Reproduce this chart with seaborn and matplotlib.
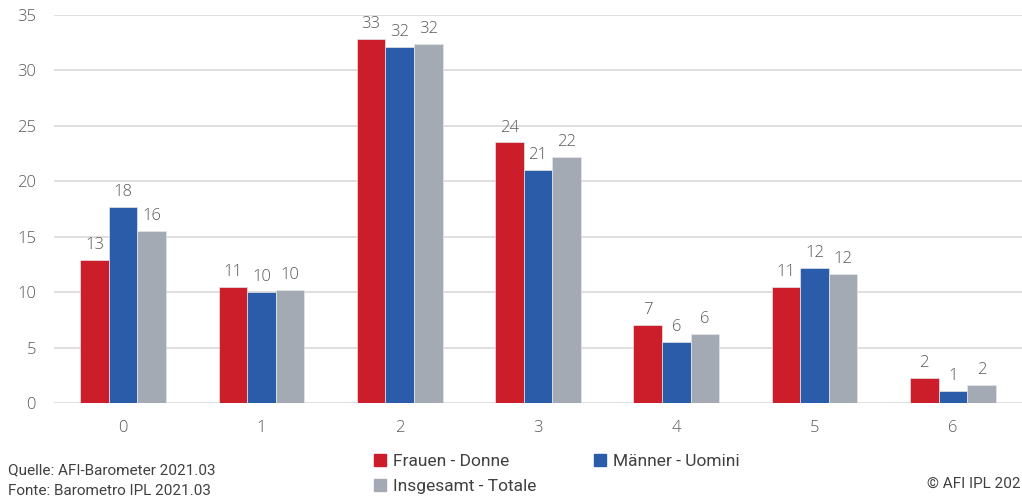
import numpy as np
import pandas as pd
import matplotlib
matplotlib.use("Agg")
import matplotlib.pyplot as plt
import seaborn as sns

categories = ["0", "1", "2", "3", "4", "5", "6"]
frauen = [12.9, 10.5, 32.8, 23.5, 7.0, 10.5, 2.3]
maenner = [17.7, 10.0, 32.1, 21.0, 5.5, 12.2, 1.05]
insgesamt = [15.5, 10.2, 32.4, 22.2, 6.2, 11.6, 1.6]
series_names = ["Frauen - Donne", "Männer - Uomini", "Insgesamt - Totale"]
colors = ["#CC1E2A", "#2B5CA9", "#A3AAB4"]
yticks = [0, 5, 10, 15, 20, 25, 30, 35]

df = pd.DataFrame({
    "cat": categories * 3,
    "val": frauen + maenner + insgesamt,
    "series": [series_names[0]] * 7 + [series_names[1]] * 7 + [series_names[2]] * 7,
})

sns.set_theme(style="white")
plt.rcParams["font.family"] = ["Open Sans", "DejaVu Sans"]

fig = plt.figure(figsize=(10.22, 5), dpi=100)
ax = fig.add_axes([0.0528, 0.194, 0.9472, 0.776])

sns.barplot(data=df, x="cat", y="val", hue="series", order=categories,
            hue_order=series_names, palette=colors, width=0.62,
            saturation=1, ax=ax, legend=False, errorbar=None,
            edgecolor="#E6E6E6", linewidth=0.5)

for cont in ax.containers:
    labels = [f"{int(np.floor(v + 0.5))}" for v in cont.datavalues]
    ax.bar_label(cont, labels=labels, padding=5, fontsize=12,
                 color="#595959", fontweight="light")

ax.set_xlim(-0.5, 6.5)
ax.set_ylim(0, 35)
ax.set_yticks(yticks)
ax.grid(axis="y", color="#D9D9D9", linewidth=1.2)
ax.set_axisbelow(True)
for s in ax.spines.values():
    s.set_visible(False)
ax.set_xlabel("")
ax.set_ylabel("")
ax.tick_params(axis="y", length=0, pad=13, labelsize=12, labelcolor="#595959")
ax.tick_params(axis="x", length=0, pad=12, labelsize=12, labelcolor="#595959")
for t in ax.get_xticklabels() + ax.get_yticklabels():
    t.set_fontweight("light")

narrow = ["Roboto", "DejaVu Sans"]
handles = [plt.Rectangle((0, 0), 1, 1, color=c) for c in colors]
# column-major fill: col1 = Frauen, Insgesamt ; col2 = Männer
order = [0, 2, 1]
leg = fig.legend([handles[i] for i in order], [series_names[i] for i in order],
                 ncol=2, loc="center",
                 bbox_to_anchor=(0.545, 0.052), frameon=False,
                 handlelength=0.7, handleheight=0.7, handletextpad=0.4,
                 columnspacing=3.3, labelspacing=0.55,
                 prop={"family": narrow, "size": 12.5})
for t in leg.get_texts():
    t.set_color("#404040")

fig.text(0.008, 0.06, "Quelle: AFI-Barometer 2021.03", family=narrow,
         fontsize=11, color="#404040", va="center")
fig.text(0.008, 0.018, "Fonte: Barometro IPL 2021.03", family=narrow,
         fontsize=11, color="#404040", va="center")
fig.text(0.999, 0.032, "© AFI IPL 202", family=narrow, ha="right",
         fontsize=11, color="#404040", va="center")

fig.savefig("out.png", dpi=100)
